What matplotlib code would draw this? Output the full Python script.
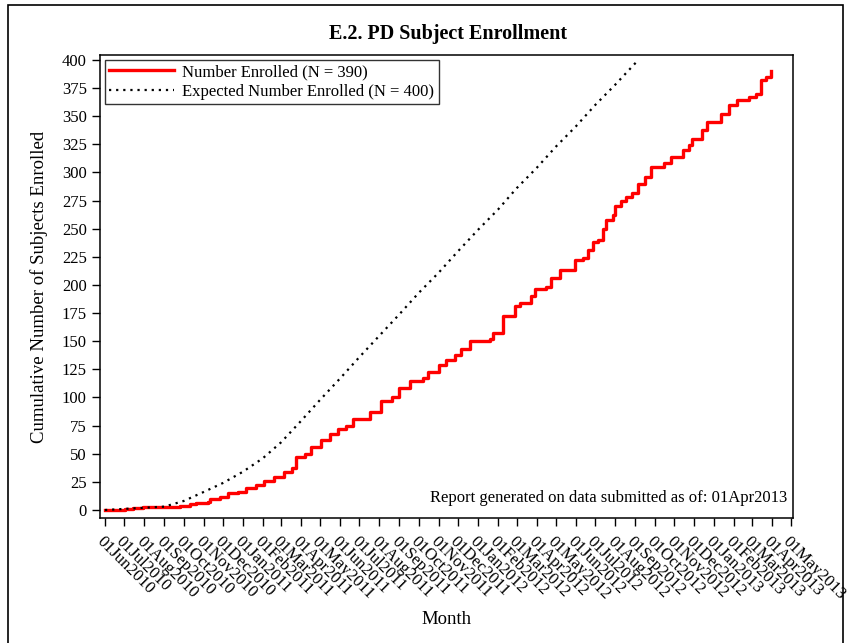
import matplotlib
matplotlib.use("Agg")
import matplotlib.pyplot as plt
import matplotlib.dates as mdates
from matplotlib.patches import Rectangle
import numpy as np
import datetime as dt

# cumulative enrolment
enr_dates = ["2010-06-01", "2010-07-02", "2010-07-14", "2010-07-30", "2010-09-25",
             "2010-10-11", "2010-10-20", "2010-11-08", "2010-11-11", "2010-11-26",
             "2010-12-09", "2010-12-24", "2011-01-06", "2011-01-21", "2011-02-03",
             "2011-02-18", "2011-03-06", "2011-03-18", "2011-03-25", "2011-04-08",
             "2011-04-17", "2011-05-02", "2011-05-16", "2011-05-29", "2011-06-10",
             "2011-06-21", "2011-07-17", "2011-08-03", "2011-08-20", "2011-09-01",
             "2011-09-17", "2011-10-07", "2011-10-15", "2011-11-02", "2011-11-13",
             "2011-11-26", "2011-12-05", "2011-12-19", "2012-01-19", "2012-01-24",
             "2012-02-09", "2012-02-27", "2012-03-06", "2012-03-23", "2012-03-30",
             "2012-04-16", "2012-04-23", "2012-05-07", "2012-05-31", "2012-06-12",
             "2012-06-20", "2012-06-28", "2012-07-05", "2012-07-13", "2012-07-18",
             "2012-07-29", "2012-08-01", "2012-08-10", "2012-08-18", "2012-08-27",
             "2012-09-06", "2012-09-17", "2012-09-26", "2012-10-15", "2012-10-27",
             "2012-11-15", "2012-11-23", "2012-11-28", "2012-12-13", "2012-12-21",
             "2013-01-06", "2013-01-12", "2013-01-25", "2013-02-06", "2013-02-25",
             "2013-03-08", "2013-03-15", "2013-03-23", "2013-03-31"]
enr_count = [0, 1, 2, 3, 4, 5, 6, 7, 10, 12,
             15, 16, 20, 22, 26, 29, 34, 37, 47, 50,
             56, 62, 68, 72, 75, 81, 87, 97, 100, 108,
             115, 117, 123, 129, 133, 138, 143, 150, 152, 157,
             172, 181, 184, 190, 196, 198, 206, 213, 222, 224,
             231, 238, 240, 250, 258, 262, 270, 275, 278, 282,
             290, 296, 305, 308, 314, 320, 324, 330, 338, 345,
             345, 352, 360, 364, 367, 370, 382, 385, 390]

# expected enrolment, monthly
exp_dates = ["2010-06-01", "2010-07-01", "2010-08-01", "2010-09-01", "2010-10-01",
             "2010-11-01", "2010-12-01", "2011-01-01", "2011-02-01", "2011-03-01",
             "2011-04-01", "2011-05-01", "2011-06-01", "2011-07-01", "2011-08-01",
             "2011-09-01", "2011-10-01", "2011-11-01", "2011-12-01", "2012-01-01",
             "2012-02-01", "2012-03-01", "2012-04-01", "2012-05-01", "2012-06-01",
             "2012-07-01", "2012-08-01", "2012-09-01", "2012-09-06"]
exp_count = [0, 1, 2, 3, 8, 16, 24, 34, 46, 60,
             79, 98, 117, 136, 155, 174, 193, 211, 230, 249,
             267, 286, 304, 323, 341, 360, 378, 397, 400]

tick_months = [dt.date(2010 + (5 + i) // 12, (5 + i) % 12 + 1, 1) for i in range(36)]

def d(s):
    return dt.datetime.strptime(s, "%Y-%m-%d")

plt.rcParams['font.family'] = ['Liberation Serif', 'DejaVu Serif']

fig = plt.figure(figsize=(8.5, 6.43), dpi=100)
ax = fig.add_axes([100/850, 1-518/643, 693/850, 463/643])

ax.plot([d(s) for s in enr_dates], enr_count, drawstyle='steps-post',
        color='red', lw=2.4, label='Number Enrolled (N = 390)')
ax.plot([d(s) for s in exp_dates], exp_count, color='black', lw=1.6,
        linestyle=(0, (1, 2.2)), label='Expected Number Enrolled (N = 400)')

x0 = mdates.date2num(dt.datetime(2010, 6, 1))
ax.set_xlim(x0 - 7.8, x0 + 1068)
ax.set_ylim(-7.1, 404.4)
ax.set_yticks(np.arange(0, 401, 25))
ax.set_xticks(tick_months)
ax.set_xticklabels([t.strftime("%d%b%Y") for t in tick_months],
                   rotation=-45, ha='left', va='top', rotation_mode='anchor')
ax.tick_params(direction='out', length=6, width=1, labelsize=12, colors='black')
ax.tick_params(axis='x', pad=5, labelsize=12.2)
for sp in ax.spines.values():
    sp.set_linewidth(1.1)

ax.set_ylabel('Cumulative Number of Subjects Enrolled', fontsize=13.5, labelpad=10)
ax.set_xlabel('Month', fontsize=13.5, labelpad=6)
fig.text(448/850, 1-34/643, 'E.2. PD Subject Enrollment', ha='center', va='center',
         fontsize=14.5, fontweight='bold')
ax.text(0.991, 0.025, 'Report generated on data submitted as of: 01Apr2013',
        transform=ax.transAxes, ha='right', va='bottom', fontsize=12)

leg = ax.legend(loc='upper left', fontsize=12, frameon=True, fancybox=False,
                edgecolor='black', borderaxespad=0.3, handlelength=3.9,
                borderpad=0.25, labelspacing=0.22, handletextpad=0.5)
leg.get_frame().set_linewidth(1.0)

fig.patches.append(Rectangle((8/850, -0.02), 835/850, 1-5/643+0.02, transform=fig.transFigure,
                             fill=False, edgecolor='black', lw=1.2))

fig.savefig('out.png', dpi=100)
